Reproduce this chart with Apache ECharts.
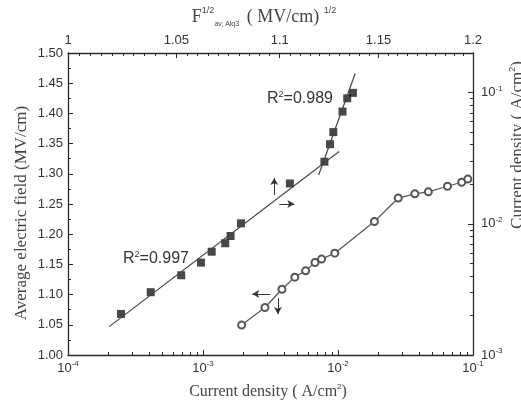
<!DOCTYPE html>
<html>
<head>
<meta charset="utf-8">
<script src="https://cdn.jsdelivr.net/npm/echarts@6/dist/echarts.min.js"></script>
<style>
    html, body { margin: 0; padding: 0; background: #fff; }
    #chart { width: 521px; height: 402px; }
</style>
</head>
<body>
<div id="chart"></div>
<script>
// [ data ]
// filled squares: bottom axis J, left axis E
const jSquare = [2.47e-4, 4.10e-4, 6.90e-4, 9.66e-4, 1.16e-3, 1.46e-3, 1.60e-3, 1.91e-3, 4.40e-3, 7.93e-3, 8.73e-3, 9.23e-3, 1.08e-2, 1.17e-2, 1.29e-2];
const eSquare = [1.068, 1.104, 1.132, 1.153, 1.171, 1.185, 1.197, 1.218, 1.284, 1.320, 1.349, 1.369, 1.403, 1.425, 1.434];

// fit lines
const fitLowJ = [2.02e-4, 1.02e-2];
const fitLowE = [1.047, 1.337];
const fitHighJ = [7.19e-3, 1.34e-2];
const fitHighE = [1.298, 1.466];

// open circles: top axis F^1/2, right axis J
const fCircle = [1.0813, 1.0927, 1.1011, 1.1075, 1.1129, 1.1176, 1.1209, 1.1276, 1.1479, 1.1603, 1.1690, 1.1761, 1.1863, 1.1939, 1.1972];
const jCircle = [1.69e-3, 2.30e-3, 3.17e-3, 3.92e-3, 4.38e-3, 5.07e-3, 5.38e-3, 5.97e-3, 1.04e-2, 1.57e-2, 1.69e-2, 1.75e-2, 1.93e-2, 2.07e-2, 2.19e-2];

// tick labels
const jBottomTicks = [1e-4, 1e-3, 1e-2, 1e-1];
const jRightTicks = [1e-3, 1e-2, 1e-1];
const fTopTicks = [1, 1.05, 1.1, 1.15, 1.2];

const r2Low = '0.997';
const r2High = '0.989';

// log minor ticks 2..9 per decade
function logMinors(fromExp, toExp) {
    let out = [];
    for (let e = fromExp; e < toExp; e++) {
        for (let m = 2; m <= 9; m++) out.push(+(m * Math.pow(10, e)).toPrecision(3));
    }
    return out;
}

let fMinors = [];
for (let i = 1; i < 40; i++) {
    const v = +(1 + i * 0.005).toFixed(3);
    if (fTopTicks.indexOf(v) < 0) fMinors.push(v);
}

const pair = (xs, ys) => xs.map((x, i) => [x, ys[i]]);

const axisColor = '#2a2a2a';
const sans = 'Liberation Sans, Arial, sans-serif';
const serif = 'Liberation Serif, Times New Roman, serif';
const labelFont = { color: '#333', fontFamily: sans, fontSize: 13 };

const powLabel = v => '{b|10}{s|' + Math.round(Math.log10(v)) + '}';
const powRich = {
    b: { fontSize: 13, lineHeight: 16, color: '#333', fontFamily: sans },
    s: { fontSize: 8, lineHeight: 8, verticalAlign: 'top', color: '#333', fontFamily: sans }
};

const r2Rich = {
    b: { fontFamily: sans, fontSize: 16, lineHeight: 18, fill: '#333' },
    s: { fontFamily: sans, fontSize: 9, lineHeight: 9, verticalAlign: 'top', fill: '#333' }
};

const chart = echarts.init(document.getElementById('chart'));

const option = {
    animation: false,
    grid: { left: 68, top: 53, right: 48, bottom: 47, containLabel: false },
    xAxis: [
        {   // bottom, current density
            type: 'log', logBase: 10, min: 1e-4, max: 1e-1, position: 'bottom',
            axisLine: { lineStyle: { color: axisColor, width: 1.3 } },
            axisTick: { inside: true, length: 5, customValues: jBottomTicks, lineStyle: { color: axisColor } },
            axisLabel: { customValues: jBottomTicks, formatter: powLabel, rich: powRich, margin: 5 },
            splitLine: { show: false }
        },
        {   // bottom minors
            type: 'log', logBase: 10, min: 1e-4, max: 1e-1, position: 'bottom',
            axisLine: { show: false },
            axisTick: { inside: true, length: 3, customValues: logMinors(-4, -1), lineStyle: { color: axisColor } },
            axisLabel: { show: false },
            splitLine: { show: false }
        },
        {   // top, F^1/2
            type: 'log', logBase: 10, min: 1, max: 1.2, position: 'top',
            axisLine: { lineStyle: { color: axisColor, width: 1.3 } },
            axisTick: { inside: true, length: 5, customValues: fTopTicks, lineStyle: { color: axisColor } },
            axisLabel: Object.assign({ customValues: fTopTicks, formatter: v => String(+v.toFixed(2)), margin: 6 }, labelFont),
            splitLine: { show: false }
        },
        {   // top minors
            type: 'log', logBase: 10, min: 1, max: 1.2, position: 'top',
            axisLine: { show: false },
            axisTick: { inside: true, length: 3, customValues: fMinors, lineStyle: { color: axisColor } },
            axisLabel: { show: false },
            splitLine: { show: false }
        }
    ],
    yAxis: [
        {   // left, average field
            type: 'value', min: 1.0, max: 1.5, interval: 0.05, position: 'left',
            axisLine: { show: true, lineStyle: { color: axisColor, width: 1.3 } },
            axisTick: { show: true, inside: true, length: 5, lineStyle: { color: axisColor } },
            minorTick: { show: true, splitNumber: 2, length: 3, lineStyle: { color: axisColor } },
            axisLabel: Object.assign({ formatter: v => v.toFixed(2), margin: 5 }, labelFont),
            splitLine: { show: false }
        },
        {   // right, current density
            type: 'log', logBase: 10, min: 1e-3, max: 0.2, position: 'right',
            axisLine: { show: true, lineStyle: { color: axisColor, width: 1.3 } },
            axisTick: { show: true, inside: true, length: 5, customValues: jRightTicks, lineStyle: { color: axisColor } },
            axisLabel: { customValues: jRightTicks, formatter: powLabel, rich: powRich, margin: 8 },
            splitLine: { show: false }
        },
        {   // right minors
            type: 'log', logBase: 10, min: 1e-3, max: 0.2, position: 'right',
            axisLine: { show: false },
            axisTick: { show: true, inside: true, length: 3, customValues: logMinors(-3, -1), lineStyle: { color: axisColor } },
            axisLabel: { show: false },
            splitLine: { show: false }
        }
    ],
    series: [
        {
            type: 'line', xAxisIndex: 0, yAxisIndex: 0,
            data: pair(fitLowJ, fitLowE), showSymbol: false,
            lineStyle: { color: '#444', width: 1.2 }
        },
        {
            type: 'line', xAxisIndex: 0, yAxisIndex: 0,
            data: pair(fitHighJ, fitHighE), showSymbol: false,
            lineStyle: { color: '#444', width: 1.2 }
        },
        {
            type: 'scatter', xAxisIndex: 0, yAxisIndex: 0,
            data: pair(jSquare, eSquare),
            symbol: 'rect', symbolSize: 8,
            itemStyle: { color: '#1a1a1a' },
            markLine: {
                silent: true, symbol: ['none', 'arrow'], symbolSize: [6, 7],
                label: { show: false },
                lineStyle: { color: '#333', width: 1, type: 'solid' },
                data: [
                    [{ coord: [3.37e-3, 1.265] }, { coord: [3.37e-3, 1.293] }],
                    [{ coord: [3.67e-3, 1.250] }, { coord: [4.75e-3, 1.250] }]
                ]
            }
        },
        {
            type: 'line', xAxisIndex: 2, yAxisIndex: 1,
            data: pair(fCircle, jCircle),
            symbol: 'emptyCircle', symbolSize: 7,
            lineStyle: { color: '#555', width: 1.2 },
            itemStyle: { color: '#555', borderWidth: 1.4 },
            markLine: {
                silent: true, symbol: ['none', 'arrow'], symbolSize: [6, 7],
                label: { show: false },
                lineStyle: { color: '#333', width: 1, type: 'solid' },
                data: [
                    [{ coord: [1.0953, 2.92e-3] }, { coord: [1.0865, 2.92e-3] }],
                    [{ coord: [1.0991, 2.71e-3] }, { coord: [1.0991, 2.05e-3] }]
                ]
            }
        }
    ],
    graphic: [
        {
            type: 'text', x: 264, y: 17, z: 10,
            style: {
                text: '{t|F}{u|1/2}{d|av, Alq3}{t| ( MV/cm) }{u|1/2}',
                align: 'center', verticalAlign: 'middle',
                rich: {
                    t: { fontFamily: serif, fontSize: 18, lineHeight: 22, fill: '#444' },
                    u: { fontFamily: sans, fontSize: 9, lineHeight: 9, verticalAlign: 'top', fill: '#444' },
                    d: { fontFamily: sans, fontSize: 7, lineHeight: 7, verticalAlign: 'bottom', fill: '#444', padding: [0, 3, 0, 0] }
                }
            }
        },
        {
            type: 'text', x: 268, y: 392, z: 10,
            style: {
                text: '{t|Current density ( A/cm}{u|2}{t|)}',
                align: 'center', verticalAlign: 'middle',
                rich: {
                    t: { fontFamily: serif, fontSize: 16, lineHeight: 18, fill: '#444' },
                    u: { fontFamily: sans, fontSize: 8, lineHeight: 8, verticalAlign: 'top', fill: '#444' }
                }
            }
        },
        {
            type: 'text', x: 22, y: 213, rotation: Math.PI / 2, z: 10,
            style: {
                text: 'Average electric field (MV/cm)',
                align: 'center', verticalAlign: 'middle',
                font: '17px "Liberation Serif", "Times New Roman", serif', fill: '#444'
            }
        },
        {
            type: 'text', x: 518, y: 145, rotation: Math.PI / 2, z: 10,
            style: {
                text: '{t|Current density ( A/cm}{u|2}{t|)}',
                align: 'center', verticalAlign: 'middle',
                rich: {
                    t: { fontFamily: serif, fontSize: 17, lineHeight: 19, fill: '#444' },
                    u: { fontFamily: sans, fontSize: 9, lineHeight: 9, verticalAlign: 'top', fill: '#444' }
                }
            }
        },
        {
            type: 'text', x: 123, y: 259, z: 10,
            style: { text: '{b|R}{s|2}{b|=' + r2Low + '}', verticalAlign: 'middle', rich: r2Rich }
        },
        {
            type: 'text', x: 267, y: 99, z: 10,
            style: { text: '{b|R}{s|2}{b|=' + r2High + '}', verticalAlign: 'middle', rich: r2Rich }
        }
    ]
};

chart.setOption(option);
</script>
</body>
</html>
